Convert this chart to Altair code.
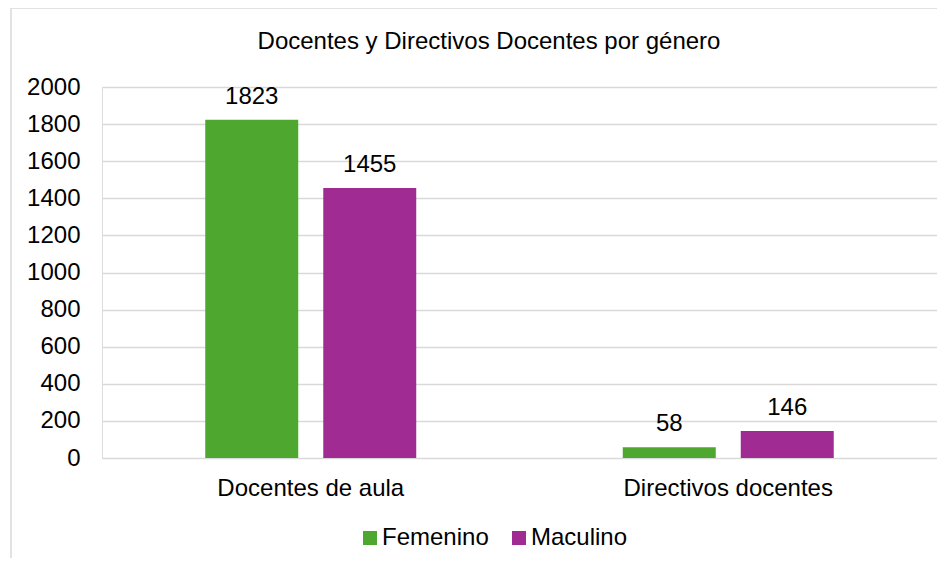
import altair as alt
import pandas as pd

categories = ["Docentes de aula", "Docentes de aula", "Directivos docentes", "Directivos docentes"]
genders = ["Femenino", "Maculino", "Femenino", "Maculino"]
values = [1823, 1455, 58, 146]
y_ticks = [0, 200, 400, 600, 800, 1000, 1200, 1400, 1600, 1800, 2000]
title_text = "Docentes y Directivos Docentes por género"

df = pd.DataFrame({"cat": categories, "gen": genders, "val": values})
cat_order = ["Docentes de aula", "Directivos docentes"]
gen_order = ["Femenino", "Maculino"]
colors = ["#4EA72E", "#A02B93"]
FONT = "Liberation Sans"
FS = 24

base = alt.Chart(df).encode(
    x=alt.X("cat:N", sort=cat_order, title=None,
            scale=alt.Scale(paddingInner=0, paddingOuter=0),
            axis=alt.Axis(labelAngle=0, ticks=False, domain=False, labelPadding=18, labelLimit=0,
                          labelFontSize=FS, labelColor="#000000", labelFont=FONT)),
    xOffset=alt.XOffset("gen:N", sort=gen_order,
                        scale=alt.Scale(paddingInner=0.212, paddingOuter=0.875)),
    y=alt.Y("val:Q", title=None,
            scale=alt.Scale(domain=[0, 2000]),
            axis=alt.Axis(values=y_ticks, format="d", labelOverlap=False, ticks=False, domain=False,
                          labelPadding=22, labelFontSize=FS, labelColor="#000000", labelFont=FONT,
                          gridColor="#d9d9d9", gridWidth=1.5)),
)

bars = base.mark_bar().encode(
    color=alt.Color("gen:N", sort=gen_order, title=None,
                    scale=alt.Scale(domain=gen_order, range=colors),
                    legend=alt.Legend(orient="none", direction="horizontal", legendX=256, legendY=439,
                                      symbolType="square", symbolSize=196, symbolStrokeWidth=0,
                                      labelFontSize=FS, labelFont=FONT, labelColor="#000000",
                                      labelOffset=0, columnPadding=18)),
)

labels = base.mark_text(dy=-11, baseline="bottom", fontSize=FS, font=FONT, color="#000000").encode(
    text=alt.Text("val:Q"),
)

title = alt.Chart(pd.DataFrame({"t": [title_text]})).mark_text(
    fontSize=FS, font=FONT, color="#000000", baseline="middle", align="center"
).encode(x=alt.value(387), y=alt.value(-45), text="t:N")

border = alt.Chart(pd.DataFrame({"a": [0]})).mark_rect(
    fill=None, stroke="#d9d9d9", strokeWidth=1.5, clip=False
).encode(x=alt.value(-91), x2=alt.value(900), y=alt.value(-79), y2=alt.value(520))

chart = alt.layer(border, bars, labels, title).properties(
    width=835, height=371,
    autosize=alt.AutoSizeParams(type="none"),
    padding={"left": 94, "top": 79, "right": 0, "bottom": 100},
).configure_view(stroke=None).configure(background="white")

chart.save("out.html", embed_options={"renderer": "svg", "actions": False})
